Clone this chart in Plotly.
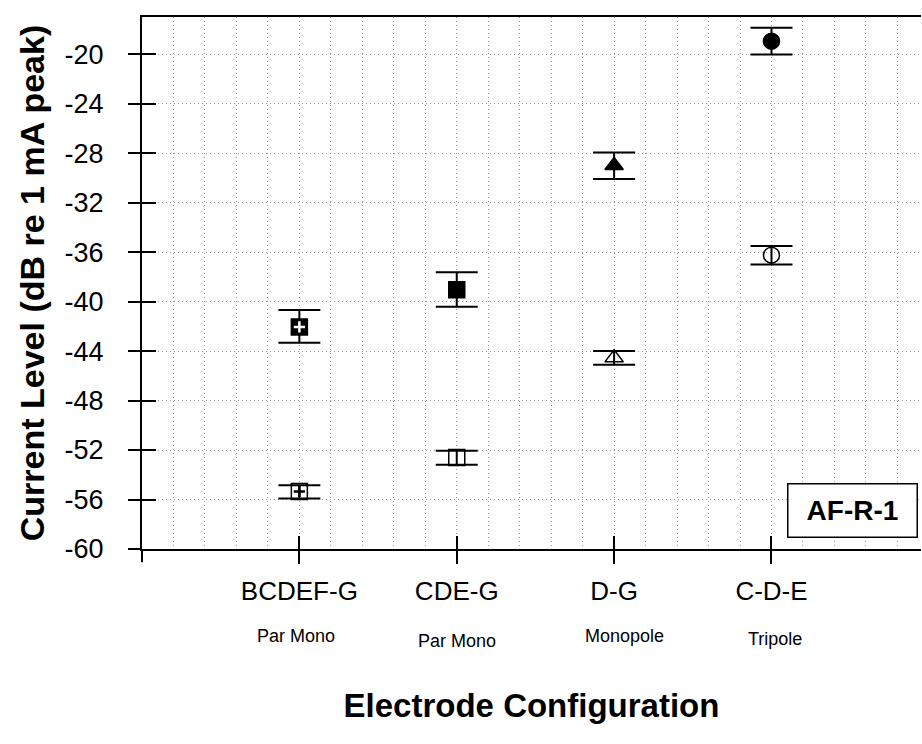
import plotly.graph_objects as go

# ---- data ----
categories = ["BCDEF-G", "CDE-G", "D-G", "C-D-E"]
sub_labels = ["Par Mono", "Par Mono", "Monopole", "Tripole"]

upper_mean = [-42.05, -39.05, -29.0, -18.95]
upper_err_plus = [1.36, 1.41, 1.05, 1.08]
upper_err_minus = [1.28, 1.37, 1.10, 1.08]
upper_symbols = ["square", "square", "triangle-up", "circle"]

lower_mean = [-55.35, -52.6, -44.55, -36.25]
lower_err_plus = [0.51, 0.55, 0.55, 0.75]
lower_err_minus = [0.57, 0.60, 0.55, 0.75]
lower_symbols = ["square-open", "square-open", "triangle-up-open", "circle-open"]

y_ticks = [-60, -56, -52, -48, -44, -40, -36, -32, -28, -24, -20]
y_range = [-60, -17.0]
x_range = [0, 4.95]
label_text = "AF-R-1"

# ---- style (not data) ----
sub_label_xshift = [-3, 0, 10, 4]
sub_label_yshift = [0, -5, 0, -3]

x_pos = list(range(1, len(categories) + 1))
FONT = "Liberation Sans"
GRID = "#9a9a9a"
GRID_DASH = "1px,3px"

fig = go.Figure()

fig.add_trace(go.Scatter(
    x=x_pos, y=upper_mean, mode="markers",
    marker=dict(symbol=upper_symbols, size=16, color="black",
                line=dict(color="black", width=1.5)),
    error_y=dict(type="data", symmetric=False, array=upper_err_plus,
                 arrayminus=upper_err_minus, color="black", thickness=2, width=21),
    showlegend=False, hoverinfo="skip"))

fig.add_trace(go.Scatter(
    x=x_pos, y=lower_mean, mode="markers",
    marker=dict(symbol=lower_symbols, size=16, color="black",
                line=dict(color="black", width=1.5)),
    error_y=dict(type="data", symmetric=False, array=lower_err_plus,
                 arrayminus=lower_err_minus, color="black", thickness=2, width=21),
    showlegend=False, hoverinfo="skip"))

# small plus inside the BCDEF-G markers
fig.add_trace(go.Scatter(
    x=[x_pos[0]], y=[upper_mean[0]], mode="markers",
    marker=dict(symbol="cross-thin", size=8, color="white",
                line=dict(color="white", width=2.5)),
    showlegend=False, hoverinfo="skip"))
fig.add_trace(go.Scatter(
    x=[x_pos[0]], y=[lower_mean[0]], mode="markers",
    marker=dict(symbol="cross-thin", size=8, color="black",
                line=dict(color="black", width=2.5)),
    showlegend=False, hoverinfo="skip"))

# invisible trace to carry the overlay axes (inner half of crossing ticks)
fig.add_trace(go.Scatter(
    x=x_pos, y=upper_mean, xaxis="x2", yaxis="y2", mode="markers",
    marker=dict(opacity=0), showlegend=False, hoverinfo="skip"))

for i, s in enumerate(sub_labels):
    fig.add_annotation(x=x_pos[i], xref="x", y=-0.1635, yref="paper",
                       text=s, showarrow=False, yanchor="middle", xanchor="center",
                       xshift=sub_label_xshift[i], yshift=sub_label_yshift[i],
                       font=dict(family=FONT, size=18, color="black"))

fig.add_annotation(x=0.9127, xref="paper", y=0.0733, yref="paper",
                   xanchor="center", yanchor="middle",
                   text=label_text, showarrow=False, width=126, height=50,
                   bordercolor="black", borderwidth=1.5, bgcolor="white",
                   font=dict(family=FONT, size=28, color="black", weight="bold"))

fig.update_layout(
    width=922, height=744,
    margin=dict(l=142, r=1, t=17, b=195),
    paper_bgcolor="white", plot_bgcolor="white",
    font=dict(family=FONT, color="black"),
    xaxis=dict(
        range=x_range, tickmode="array", tickvals=x_pos, ticktext=categories,
        ticks="outside", ticklen=13, tickwidth=1.5, tickcolor="black",
        showline=True, linecolor="black", linewidth=2, mirror=True,
        showgrid=True, gridcolor=GRID, griddash=GRID_DASH, gridwidth=1,
        zeroline=False, tickfont=dict(family=FONT, size=26, color="black"),
        ticklabelstandoff=5,
        minor=dict(tickmode="linear", tick0=0, dtick=0.2, showgrid=True,
                   gridcolor=GRID, griddash=GRID_DASH, gridwidth=1, ticks=""),
        title=dict(text="Electrode Configuration", standoff=89,
                   font=dict(family=FONT, size=33, color="black", weight="bold")),
    ),
    yaxis=dict(
        range=y_range, tickmode="array", tickvals=y_ticks,
        ticktext=[str(v) for v in y_ticks],
        ticks="outside", ticklen=12, tickwidth=1.5, tickcolor="black",
        showline=True, linecolor="black", linewidth=2, mirror=False,
        showgrid=True, gridcolor=GRID, griddash=GRID_DASH, gridwidth=1,
        zeroline=False, tickfont=dict(family=FONT, size=27, color="black"),
        ticklabelstandoff=19,
        title=dict(text="Current Level (dB re 1 mA peak)", standoff=10,
                   font=dict(family=FONT, size=34, color="black", weight="bold")),
    ),
    xaxis2=dict(
        range=x_range, overlaying="x", anchor="y2", side="bottom",
        tickmode="array", tickvals=x_pos, ticks="inside", ticklen=13,
        tickwidth=1.5, tickcolor="black", showticklabels=False,
        showgrid=False, showline=False, zeroline=False),
    yaxis2=dict(
        range=y_range, overlaying="y", anchor="x2", side="left",
        tickmode="array", tickvals=y_ticks, ticks="inside", ticklen=14,
        tickwidth=1.5, tickcolor="black", showticklabels=False,
        showgrid=False, showline=False, zeroline=False),
    shapes=[
        dict(type="line", xref="paper", yref="paper", x0=-0.017, x1=0, y0=0, y1=0,
             line=dict(color="black", width=2)),
        dict(type="line", xref="paper", yref="paper", x0=0, x1=0, y0=-0.025, y1=0,
             line=dict(color="black", width=2)),
    ],
)

fig.write_html("out.html")
